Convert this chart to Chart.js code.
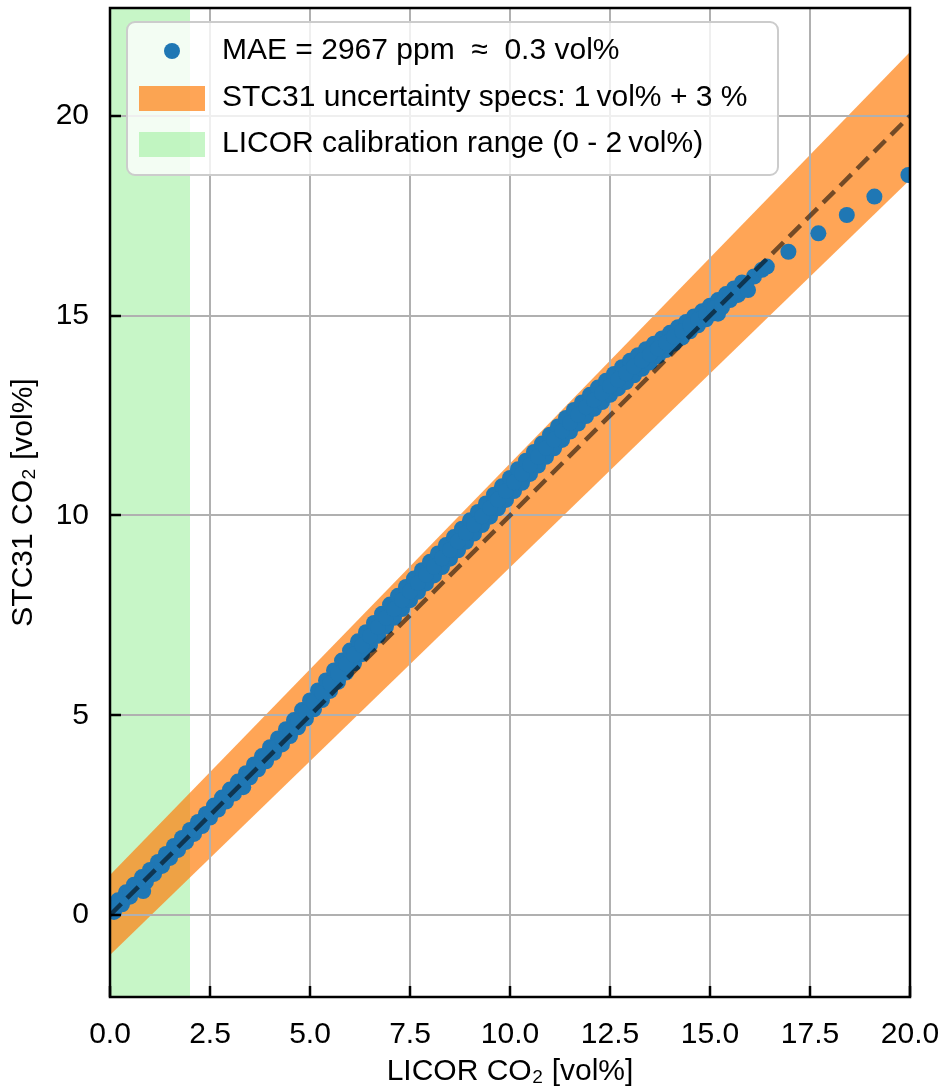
<!DOCTYPE html>
<html>
<head>
<meta charset="utf-8">
<script src="https://cdn.jsdelivr.net/npm/chart.js@4.4.1/dist/chart.umd.min.js"></script>
<style>
  html, body { margin: 0; padding: 0; background: #ffffff; }
  canvas { display: block; }
</style>
</head>
<body>
<canvas id="c" width="944" height="1090"></canvas>
<script>
// ---------------- data ----------------
// centre of the measured point cloud
const licorCO2 = [
  0.1, 0.3, 0.5, 0.7, 0.83, 0.9,
  1.1, 1.3, 1.5, 1.7, 1.9,
  2.1, 2.3, 2.5, 2.7, 2.9,
  3.1, 3.3, 3.33, 3.5, 3.7, 3.9,
  4.1, 4.3, 4.5, 4.7, 4.9,
  5.1, 5.3, 5.5, 5.7, 5.9,
  6.1, 6.3, 6.5, 6.7, 6.9,
  7.1, 7.3, 7.5, 7.7, 7.9,
  8.1, 8.3, 8.5, 8.7, 8.9,
  9.1, 9.3, 9.5, 9.7, 9.9,
  10.1, 10.3, 10.5, 10.7, 10.9,
  11.1, 11.3, 11.5, 11.7, 11.9,
  12.1, 12.3, 12.5, 12.7, 12.9,
  13.1, 13.3, 13.5, 13.7, 13.9,
  14.1, 14.3, 14.5, 14.7, 14.9,
  15.1, 15.2, 15.3, 15.5, 15.7, 15.9, 15.95,
  16.1, 16.3, 16.42,
  16.96, 17.71, 18.42, 19.11, 19.96
];
const stc31CO2 = [
  0.18, 0.37, 0.56, 0.75, 0.6, 0.94,
  1.13, 1.33, 1.53, 1.73, 1.93,
  2.13, 2.33, 2.54, 2.74, 2.94,
  3.14, 3.35, 3.2, 3.55, 3.76, 3.97,
  4.18, 4.4, 4.62, 4.85, 5.08,
  5.32, 5.56, 5.8, 6.04, 6.28,
  6.52, 6.75, 6.98, 7.21, 7.44,
  7.66, 7.88, 8.1, 8.31, 8.52,
  8.72, 8.93, 9.14, 9.35, 9.56,
  9.77, 9.98, 10.19, 10.4, 10.61,
  10.83, 11.04, 11.26, 11.47, 11.69,
  11.9, 12.11, 12.32, 12.52, 12.71,
  12.89, 13.06, 13.24, 13.4, 13.56,
  13.73, 13.88, 14.03, 14.18, 14.32,
  14.47, 14.61, 14.76, 14.9, 15.04,
  15.19, 15.05, 15.33, 15.5, 15.63, 15.78, 15.64,
  15.98, 16.15, 16.23,
  16.6, 17.06, 17.52, 17.98, 18.52
];
// upper edge of the point cloud
const licorUpper = [
  0.2, 0.4, 0.6, 0.8, 1.0, 1.2, 1.4, 1.6, 1.8, 2.0,
  2.2, 2.4, 2.6, 2.8, 3.0, 3.2, 3.4, 3.6, 3.8, 4.0,
  4.2, 4.4, 4.6, 4.8, 5.0, 5.2, 5.4, 5.6, 5.8, 6.0,
  6.2, 6.4, 6.6, 6.8, 7.0, 7.2, 7.4, 7.6, 7.8, 8.0,
  8.2, 8.4, 8.6, 8.8, 9.0, 9.2, 9.4, 9.6, 9.8, 10.0,
  10.2, 10.4, 10.6, 10.8, 11.0, 11.2, 11.4, 11.6, 11.8, 12.0,
  12.2, 12.4, 12.6, 12.8, 13.0, 13.2, 13.4, 13.6, 13.8, 14.0,
  14.2, 14.4, 14.6, 14.8, 15.0, 15.2, 15.4, 15.6, 15.8
];
const stc31Upper = [
  0.37, 0.57, 0.76, 0.95, 1.13, 1.33, 1.53, 1.73, 1.93, 2.13,
  2.33, 2.53, 2.74, 2.94, 3.14, 3.34, 3.55, 3.77, 3.98, 4.2,
  4.42, 4.65, 4.88, 5.13, 5.37, 5.62, 5.87, 6.12, 6.37, 6.62,
  6.85, 7.08, 7.31, 7.54, 7.77, 7.99, 8.21, 8.42, 8.63, 8.84,
  9.05, 9.26, 9.46, 9.67, 9.88, 10.09, 10.3, 10.52, 10.73, 10.94,
  11.16, 11.37, 11.59, 11.8, 12.02, 12.23, 12.44, 12.64, 12.83, 13.02,
  13.2, 13.37, 13.54, 13.71, 13.87, 14.01, 14.16, 14.3, 14.43, 14.57,
  14.71, 14.84, 14.98, 15.11, 15.25, 15.39, 15.54, 15.68, 15.83
];
// lower edge of the point cloud
const licorLower = [
  0.1, 0.3, 0.5, 0.7, 0.9, 1.1, 1.3, 1.5, 1.7, 1.9,
  2.1, 2.3, 2.5, 2.7, 2.9, 3.1, 3.3, 3.5, 3.7, 3.9,
  4.1, 4.3, 4.5, 4.7, 4.9, 5.1, 5.3, 5.5, 5.7, 5.9,
  6.1, 6.3, 6.5, 6.7, 6.9, 7.1, 7.3, 7.5, 7.7, 7.9,
  8.1, 8.3, 8.5, 8.7, 8.9, 9.1, 9.3, 9.5, 9.7, 9.9,
  10.1, 10.3, 10.5, 10.7, 10.9, 11.1, 11.3, 11.5, 11.7, 11.9,
  12.1, 12.3, 12.5, 12.7, 12.9, 13.1, 13.3, 13.5, 13.7, 13.9,
  14.1, 14.3, 14.5, 14.7, 14.9, 15.1, 15.3, 15.5, 15.7, 15.9
];
const stc31Lower = [
  0.08, 0.27, 0.46, 0.65, 0.84, 1.03, 1.23, 1.43, 1.63, 1.83,
  2.03, 2.23, 2.44, 2.64, 2.84, 3.04, 3.25, 3.45, 3.65, 3.85,
  4.06, 4.27, 4.48, 4.7, 4.92, 5.15, 5.38, 5.61, 5.84, 6.07,
  6.3, 6.53, 6.76, 6.99, 7.22, 7.44, 7.66, 7.88, 8.09, 8.3,
  8.5, 8.71, 8.92, 9.13, 9.34, 9.55, 9.76, 9.97, 10.18, 10.39,
  10.61, 10.82, 11.04, 11.25, 11.47, 11.68, 11.89, 12.1, 12.3, 12.49,
  12.67, 12.84, 13.02, 13.18, 13.34, 13.51, 13.67, 13.83, 13.99, 14.14,
  14.3, 14.45, 14.61, 14.76, 14.91, 15.06, 15.21, 15.39, 15.52, 15.68
];
const specX = [0, 20];
const specUpper = [1, 21.6];   // 1 vol% + 3 %
const specLower = [-1, 18.4];
const identityX = [0, 20];
const identityY = [0, 20];
const calibX = [0, 2];         // LICOR calibration range
const xRange = [0, 20];
const yRange = [-2.05, 22.7];
const xTicks = [0, 2.5, 5, 7.5, 10, 12.5, 15, 17.5, 20];
const xTickLabels = ['0.0', '2.5', '5.0', '7.5', '10.0', '12.5', '15.0', '17.5', '20.0'];
const yTicks = [0, 5, 10, 15, 20];
const yTickLabels = ['0', '5', '10', '15', '20'];
const legendLabels = [
  'MAE = 2967 ppm  \u2248  0.3 vol%',
  'STC31 uncertainty specs: 1\u2009vol% + 3 %',
  'LICOR calibration range (0 - 2\u2009vol%)'
];
const xTitle = 'LICOR CO\u2082 [vol%]';
const yTitle = 'STC31 CO\u2082 [vol%]';

// ---------------- styles ----------------
const BLUE = '#1f77b4';
const ORANGE_FILL = 'rgba(255,127,14,0.7)';
const GREEN_FILL = 'rgba(144,238,144,0.5)';
const GRID = '#b0b0b0';
const FONT = "'Liberation Sans', Arial, sans-serif";

const pts = (xs, ys) => xs.map((x, i) => ({ x: x, y: ys[i] }));

const gridOverFills = {
  id: 'gridOverFills',
  beforeDatasetDraw(chart, args) {
    if (args.index !== 1) return;
    const { ctx, chartArea: a, scales: { x, y } } = chart;
    ctx.save();
    ctx.strokeStyle = GRID;
    ctx.lineWidth = 2;
    ctx.beginPath();
    xTicks.forEach(v => {
      const px = Math.round(x.getPixelForValue(v));
      ctx.moveTo(px, a.top); ctx.lineTo(px, a.bottom);
    });
    yTicks.forEach(v => {
      const py = Math.round(y.getPixelForValue(v));
      ctx.moveTo(a.left, py); ctx.lineTo(a.right, py);
    });
    ctx.stroke();
    ctx.restore();
  }
};

const frameAndLegend = {
  id: 'frameAndLegend',
  afterDatasetsDraw(chart) {
    const { ctx, chartArea: a, scales: { x, y } } = chart;
    ctx.save();
    ctx.strokeStyle = '#000';
    ctx.lineWidth = 2.5;
    ctx.beginPath();
    xTicks.forEach(v => {
      const px = Math.round(x.getPixelForValue(v));
      ctx.moveTo(px, a.bottom); ctx.lineTo(px, a.bottom - 11);
    });
    yTicks.forEach(v => {
      const py = Math.round(y.getPixelForValue(v));
      ctx.moveTo(a.left, py); ctx.lineTo(a.left + 11, py);
    });
    ctx.stroke();
    ctx.strokeRect(a.left, a.top, a.right - a.left, a.bottom - a.top);
    ctx.restore();
  },
  afterDraw(chart) {
    const ctx = chart.ctx;
    ctx.save();
    const bx = 127, by = 22, bw = 651, bh = 153, r = 8;
    ctx.beginPath();
    ctx.roundRect(bx, by, bw, bh, r);
    ctx.fillStyle = 'rgba(255,255,255,0.8)';
    ctx.fill();
    ctx.strokeStyle = '#cccccc';
    ctx.lineWidth = 2;
    ctx.stroke();
    ctx.fillStyle = BLUE;
    ctx.beginPath();
    ctx.arc(172, 51, 8, 0, Math.PI * 2);
    ctx.fill();
    ctx.fillStyle = ORANGE_FILL;
    ctx.fillRect(139, 86, 66, 25);
    ctx.fillStyle = GREEN_FILL;
    ctx.fillRect(139, 132, 66, 25);
    ctx.fillStyle = '#000';
    ctx.font = '30px ' + FONT;
    ctx.textBaseline = 'middle';
    ctx.textAlign = 'left';
    const rows = [51, 98, 144];
    legendLabels.forEach((t, i) => ctx.fillText(t, 222, rows[i]));
    ctx.restore();
  }
};

const zeroPad = s => { s.paddingTop = 0; s.paddingBottom = 0; s.paddingLeft = 0; s.paddingRight = 0; };

new Chart(document.getElementById('c'), {
  type: 'line',
  data: {
    datasets: [
      {
        label: 'identity',
        data: pts(identityX, identityY),
        borderColor: 'rgba(0,0,0,0.55)',
        borderWidth: 4.5,
        borderDash: [16, 8],
        pointRadius: 0,
        fill: false,
        clip: 0
      },
      {
        label: legendLabels[0],
        data: pts(licorLower, stc31Lower)
          .concat(pts(licorUpper, stc31Upper))
          .concat(pts(licorCO2, stc31CO2)),
        showLine: false,
        pointRadius: 8,
        pointHoverRadius: 8,
        pointBorderWidth: 0,
        pointBackgroundColor: BLUE,
        borderColor: BLUE,
        clip: 0
      },
      {
        label: legendLabels[1],
        data: pts(specX, specUpper),
        borderWidth: 0,
        borderColor: 'rgba(0,0,0,0)',
        pointRadius: 0,
        backgroundColor: ORANGE_FILL,
        fill: '+1',
        clip: 0
      },
      {
        label: 'lower',
        data: pts(specX, specLower),
        borderWidth: 0,
        borderColor: 'rgba(0,0,0,0)',
        pointRadius: 0,
        fill: false,
        clip: 0
      },
      {
        label: legendLabels[2],
        data: pts(calibX, [yRange[1], yRange[1]]),
        borderWidth: 0,
        borderColor: 'rgba(0,0,0,0)',
        pointRadius: 0,
        backgroundColor: GREEN_FILL,
        fill: 'start',
        clip: 0
      }
    ]
  },
  options: {
    responsive: false,
    animation: false,
    devicePixelRatio: 1,
    layout: { padding: { top: 8, right: 34, left: 0, bottom: 0 } },
    plugins: { legend: { display: false }, tooltip: { enabled: false } },
    events: [],
    scales: {
      x: {
        type: 'linear',
        min: xRange[0], max: xRange[1],
        afterBuildTicks: s => { s.ticks = xTicks.map(v => ({ value: v })); },
        afterFit: s => { s.height = 93; zeroPad(s); },
        grid: { display: false },
        border: { display: false },
        ticks: {
          color: '#000',
          font: { family: FONT, size: 30 },
          padding: 12,
          maxRotation: 0,
          autoSkip: false,
          callback: (v, i) => xTickLabels[i]
        },
        title: {
          display: true, text: xTitle, color: '#000',
          font: { family: FONT, size: 30 },
          padding: { top: 0, bottom: 0 }
        }
      },
      y: {
        type: 'linear',
        min: yRange[0], max: yRange[1],
        afterBuildTicks: s => { s.ticks = yTicks.map(v => ({ value: v })); },
        afterFit: s => { s.width = 110; zeroPad(s); },
        grid: { display: false },
        border: { display: false },
        ticks: {
          color: '#000',
          font: { family: FONT, size: 30 },
          padding: 13,
          autoSkip: false,
          callback: (v, i) => yTickLabels[i]
        },
        title: {
          display: true, text: yTitle, color: '#000',
          font: { family: FONT, size: 30 },
          padding: { top: 6, bottom: 0 }
        }
      }
    }
  },
  plugins: [gridOverFills, frameAndLegend]
});
</script>
</body>
</html>
